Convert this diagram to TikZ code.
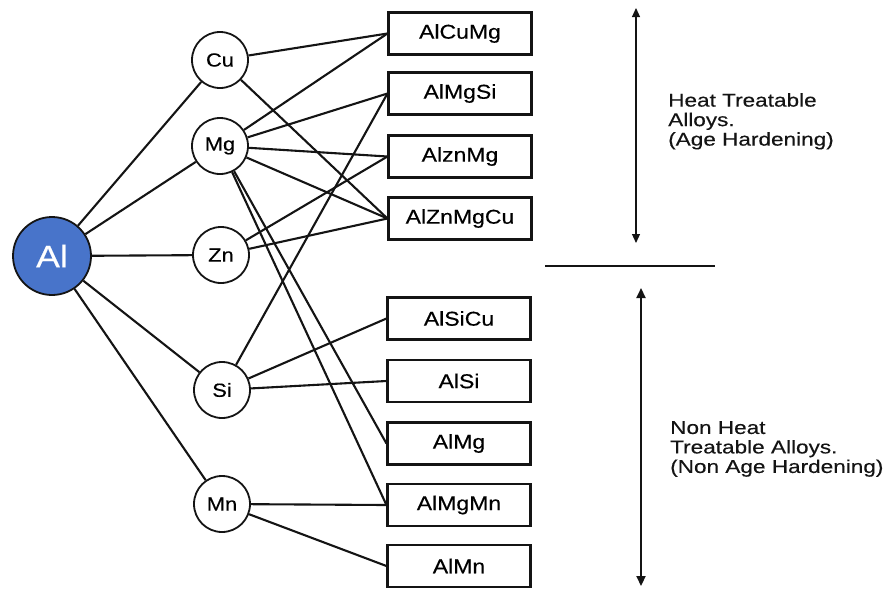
\documentclass[tikz,border=0pt]{standalone}
\usepackage{fontspec}
\setmainfont{Liberation Sans}
\newfontfamily\labfont{Liberation Sans}[FakeStretch=1.15,FakeBold=0.4]
\newfontfamily\descfont{Liberation Sans}[FakeStretch=1.22,FakeBold=0.3]
\usetikzlibrary{arrows.meta}
\definecolor{alblue}{RGB}{72,116,202}
\definecolor{ink}{RGB}{20,20,20}
\tikzset{
  elem/.style={circle, draw=ink, line width=1.8pt, fill=white, minimum size=56pt, inner sep=0pt, font=\labfont\fontsize{19}{22}\selectfont},
  alloy/.style={rectangle, draw=ink, line width=2.1pt, fill=white, minimum width=143pt, minimum height=42pt, inner sep=0pt, font=\labfont\fontsize{20}{22}\selectfont},
  link/.style={draw=ink, line width=2.1pt},
  desc/.style={align=left, anchor=north west, inner sep=0pt, font=\descfont\fontsize{18.5}{19.5}\selectfont, text=ink}
}
\begin{document}
\begin{tikzpicture}[x=1pt,y=-1pt]
\useasboundingbox (0,0) rectangle (896,590);
% elements
\node[circle, draw=ink, line width=1.8pt, fill=alblue, minimum size=78pt, inner sep=0pt, text=white, font=\labfont\fontsize{31}{34}\selectfont] (al) at (52,256) {Al};
\node[elem] (cu) at (220,60) {Cu};
\node[elem] (mg) at (220,146) {Mg};
\node[elem] (zn) at (221,255) {Zn};
\node[elem] (si) at (222,390) {Si};
\node[elem] (mn) at (222,504) {Mn};
% alloys
\node[alloy] (a1) at (460,33.5) {AlCuMg};
\node[alloy] (a2) at (460,93.5) {AlMgSi};
\node[alloy] (a3) at (460,156.5) {AlznMg};
\node[alloy] (a4) at (460,218.5) {AlZnMgCu};
\node[alloy] (a5) at (459,318.5) {AlSiCu};
\node[alloy] (a6) at (459,381) {AlSi};
\node[alloy] (a7) at (459,443.5) {AlMg};
\node[alloy] (a8) at (459,505) {AlMgMn};
\node[alloy] (a9) at (459,566) {AlMn};
% connectors from Al
\draw[link] (al) -- (cu);
\draw[link] (al) -- (mg);
\draw[link] (al) -- (zn);
\draw[link] (al) -- (si);
\draw[link] (al) -- (mn);
% element to alloy
\draw[link] (cu) -- (a1.west);
\draw[link] (cu) -- (a4.west);
\draw[link] (mg) -- (a1.west);
\draw[link] (mg) -- (a2.west);
\draw[link] (mg) -- (a3.west);
\draw[link] (mg) -- (a4.west);
\draw[link] (mg) -- (a7.west);
\draw[link] (mg) -- (a8.west);
\draw[link] (zn) -- (a3.west);
\draw[link] (zn) -- (a4.west);
\draw[link] (si) -- (a2.west);
\draw[link] (si) -- (a5.west);
\draw[link] (si) -- (a6.west);
\draw[link] (mn) -- (a8.west);
\draw[link] (mn) -- (a9.west);
% right side
\coordinate (u1) at (636,8);
\coordinate (u2) at (636,243);
\coordinate (d1) at (641,288);
\coordinate (d2) at (641,586);
\coordinate (h1) at (545,266);
\coordinate (h2) at (715,266);
\draw[draw=ink, line width=1.1pt, {Triangle[length=9pt,width=8pt]}-{Triangle[length=9pt,width=8pt]}] (u1) -- (u2);
\draw[draw=ink, line width=2.1pt, {Triangle[length=10pt,width=9pt]}-{Triangle[length=10pt,width=9pt]}] (d1) -- (d2);
\draw[draw=ink, line width=2.1pt] (h1) -- (h2);
\node[desc] (ht) at (668,93) {Heat Treatable\\Alloys.\\(Age Hardening)};
\node[desc] (nht) at (670,421) {Non Heat\\Treatable Alloys.\\(Non Age Hardening)};
\end{tikzpicture}
\end{document}
